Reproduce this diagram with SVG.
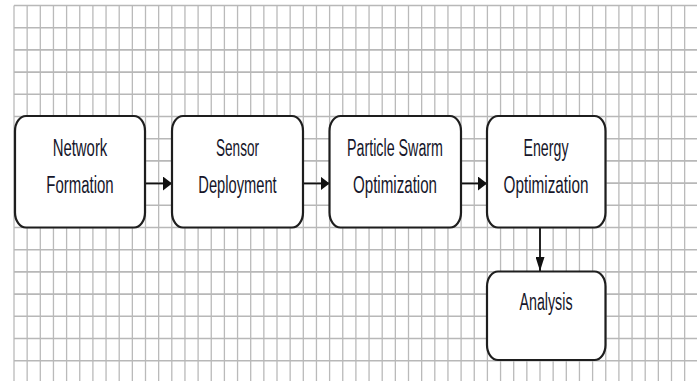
<svg xmlns="http://www.w3.org/2000/svg" width="699" height="381" viewBox="0 0 699 381">
  <style>
    .grid-v { stroke: #bababa; stroke-width: 1.3; fill: none; }
    .grid-h { stroke: #b8b8b8; stroke-width: 1.6; fill: none; }
    .box { fill: #ffffff; stroke: #1e1e1e; stroke-width: 2.2; }
    .label { font-family: "Liberation Sans", Arial, sans-serif; font-size: 23px; fill: #16162a; text-anchor: middle; }
    .link { stroke: #111111; stroke-width: 1.8; fill: none; }
  </style>
  <defs>
    <marker id="headRight" markerUnits="userSpaceOnUse" markerWidth="10" markerHeight="15" refX="9" refY="7" orient="0">
      <path d="M0,0 L9,7 L0,14 Z" fill="#111111"/>
    </marker>
    <marker id="headDown" markerUnits="userSpaceOnUse" markerWidth="10" markerHeight="15" refX="4.5" refY="14" orient="0">
      <path d="M0,0 L9,0 L4.5,14 Z" fill="#111111"/>
    </marker>
  </defs>

  <rect x="0" y="0" width="699" height="381" fill="#ffffff"/>

  <!-- background grid -->
  <g id="grid">
    <path class="grid-v" d="M14,5.5V381 M27.15,5.5V381 M40.3,5.5V381 M53.45,5.5V381 M66.6,5.5V381 M79.75,5.5V381 M92.9,5.5V381 M106.05,5.5V381 M119.2,5.5V381 M132.35,5.5V381 M145.5,5.5V381 M158.65,5.5V381 M171.8,5.5V381 M184.95,5.5V381 M198.1,5.5V381 M211.25,5.5V381 M224.4,5.5V381 M237.55,5.5V381 M250.7,5.5V381 M263.85,5.5V381 M277,5.5V381 M290.15,5.5V381 M303.3,5.5V381 M316.45,5.5V381 M329.6,5.5V381 M342.75,5.5V381 M355.9,5.5V381 M369.05,5.5V381 M382.2,5.5V381 M395.35,5.5V381 M408.5,5.5V381 M421.65,5.5V381 M434.8,5.5V381 M447.95,5.5V381 M461.1,5.5V381 M474.25,5.5V381 M487.4,5.5V381 M500.55,5.5V381 M513.7,5.5V381 M526.85,5.5V381 M540,5.5V381 M553.15,5.5V381 M566.3,5.5V381 M579.45,5.5V381 M592.6,5.5V381 M605.75,5.5V381 M618.9,5.5V381 M632.05,5.5V381 M645.2,5.5V381 M658.35,5.5V381 M671.5,5.5V381 M684.65,5.5V381"/>
    <path class="grid-h" d="M14,5.5H697 M14,27.7H697 M14,49.9H697 M14,72.1H697 M14,94.3H697 M14,116.5H697 M14,138.7H697 M14,160.9H697 M14,183.1H697 M14,205.3H697 M14,227.5H697 M14,249.7H697 M14,271.9H697 M14,294.1H697 M14,316.3H697 M14,338.5H697 M14,360.7H697"/>
  </g>

  <!-- connectors -->
  <g id="connectors">
    <path class="link" d="M145.5,183.5 H172" marker-end="url(#headRight)"/>
    <path class="link" d="M303.3,183.5 H329.5" marker-end="url(#headRight)"/>
    <path class="link" d="M461,183.5 H487" marker-end="url(#headRight)"/>
    <path class="link" d="M540,227.5 V271" marker-end="url(#headDown)"/>
  </g>

  <g id="network-formation">
    <rect class="box" x="15" y="116" width="130" height="111.5" rx="11" ry="15"/>
    <text class="label" x="80" y="156" textLength="54.6" lengthAdjust="spacingAndGlyphs">Network</text>
    <text class="label" x="80" y="192.5" textLength="67.3" lengthAdjust="spacingAndGlyphs">Formation</text>
  </g>

  <g id="sensor-deployment">
    <rect class="box" x="172" y="116" width="131" height="111.5" rx="11" ry="15"/>
    <text class="label" x="237.5" y="156" textLength="43" lengthAdjust="spacingAndGlyphs">Sensor</text>
    <text class="label" x="237.5" y="192.5" textLength="78.3" lengthAdjust="spacingAndGlyphs">Deployment</text>
  </g>

  <g id="particle-swarm">
    <rect class="box" x="329.5" y="116" width="131.5" height="111.5" rx="11" ry="15"/>
    <text class="label" x="395" y="156" textLength="96" lengthAdjust="spacingAndGlyphs">Particle Swarm</text>
    <text class="label" x="395" y="192.5" textLength="84" lengthAdjust="spacingAndGlyphs">Optimization</text>
  </g>

  <g id="energy-optimization">
    <rect class="box" x="487" y="116" width="118.5" height="111.5" rx="11" ry="15"/>
    <text class="label" x="546" y="156" textLength="45" lengthAdjust="spacingAndGlyphs">Energy</text>
    <text class="label" x="546" y="192.5" textLength="85" lengthAdjust="spacingAndGlyphs">Optimization</text>
  </g>

  <g id="analysis">
    <rect class="box" x="487" y="271.5" width="118.5" height="88.5" rx="11" ry="15"/>
    <text class="label" x="546" y="309.5" textLength="53" lengthAdjust="spacingAndGlyphs">Analysis</text>
  </g>
</svg>
